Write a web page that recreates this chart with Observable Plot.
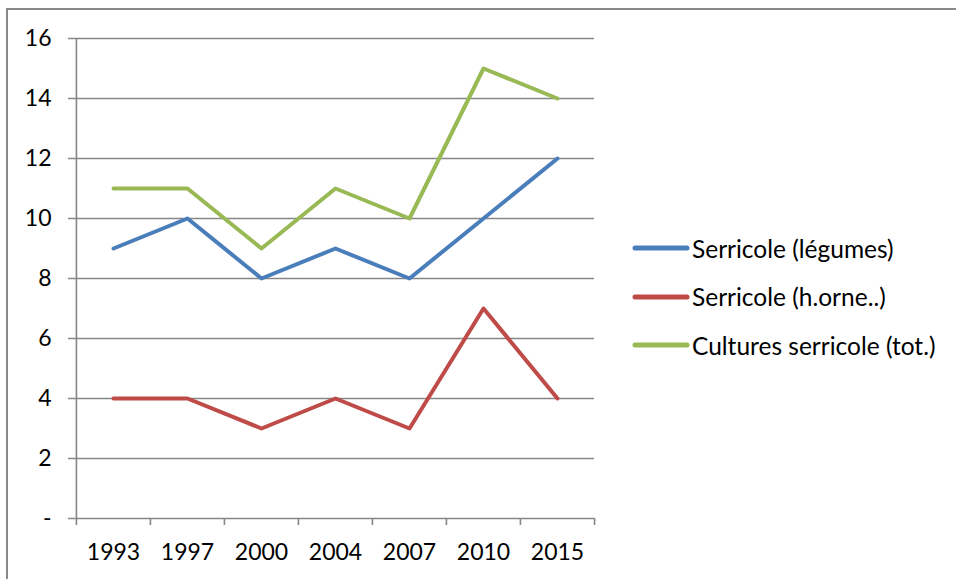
<!DOCTYPE html>
<html><head><meta charset="utf-8">
<script src="https://cdn.jsdelivr.net/npm/d3@7"></script>
<script src="https://cdn.jsdelivr.net/npm/@observablehq/plot@0.6"></script>
<style>
body{margin:0;background:#fff;font-family:Lato,sans-serif;}
#wrap{position:relative;width:956px;height:579px;overflow:hidden;background:#fff;}
#border{position:absolute;left:6px;top:8px;width:2000px;height:2000px;border:2px solid #888;pointer-events:none;}
.leg{position:absolute;left:632px;height:30px;display:flex;align-items:center;font-size:24.5px;color:#000;white-space:nowrap;}
.leg svg{margin-right:2px;}
</style></head>
<body>
<div id="wrap"><div id="chart"></div><div id="border"></div></div>
<script>
const years = ["1993","1997","2000","2004","2007","2010","2015"];
const legumes = [9,10,8,9,8,10,12];
const horne = [4,4,3,4,3,7,4];
const total = [11,11,9,11,10,15,14];
const seriesNames = ["Serricole (légumes)","Serricole (h.orne..)","Cultures serricole (tot.)"];
const seriesColors = ["#4a7ebb","#be4b48","#98b954"];
const yTicks = [0,2,4,6,8,10,12,14,16];

const W=956,H=579,mL=75,mR=362,mT=38,mB=61;
const step=(W-mL-mR)/years.length;
const rows=[];
[legumes,horne,total].forEach((arr,s)=>arr.forEach((v,i)=>rows.push({year:years[i],value:v,series:seriesNames[s]})));

const chart = Plot.plot({
  width:W,height:H,marginLeft:mL,marginRight:mR,marginTop:mT,marginBottom:mB,
  style:{fontFamily:"Lato, sans-serif",fontSize:"23px",color:"#000",background:"transparent",overflow:"visible"},
  x:{type:"band",domain:years,padding:0,axis:null},
  y:{domain:[0,16],axis:null},
  color:{domain:seriesNames,range:seriesColors},
  marks:[
    Plot.ruleY(yTicks,{y:d=>d,stroke:"#868686",strokeWidth:1.6,insetLeft:-7}),
    Plot.ruleX([years[0]],{x:d=>d,y1:0,y2:16,dx:-step/2,stroke:"#868686",strokeWidth:1.6}),
    Plot.ruleX(years,{x:d=>d,y1:0,y2:0,insetBottom:-7,dx:-step/2,stroke:"#868686",strokeWidth:1.6}),
    Plot.ruleX([years[years.length-1]],{x:d=>d,y1:0,y2:0,insetBottom:-7,dx:step/2,stroke:"#868686",strokeWidth:1.6}),
    Plot.text(yTicks,{y:d=>d,frameAnchor:"left",dx:-24,textAnchor:"end",text:d=>d===0?"-":String(d),fill:"#000"}),
    Plot.text(years,{x:d=>d,y:0,dy:34,text:d=>d,fill:"#000"}),
    Plot.line(rows,{x:"year",y:"value",z:"series",stroke:"series",strokeWidth:4,strokeLinecap:"round",strokeLinejoin:"round"})
  ]
});
document.getElementById("chart").appendChild(chart);

const wrap=document.getElementById("wrap");
const legY=[248,296.5,345];
seriesNames.forEach((n,i)=>{
  const d=document.createElement("div");
  d.className="leg";
  d.style.top=(legY[i]-15)+"px";
  d.innerHTML=`<svg width="58" height="10"><line x1="3" y1="5" x2="55" y2="5" stroke="${seriesColors[i]}" stroke-width="5" stroke-linecap="round"/></svg><span>${n}</span>`;
  wrap.appendChild(d);
});
</script>
</body></html>
